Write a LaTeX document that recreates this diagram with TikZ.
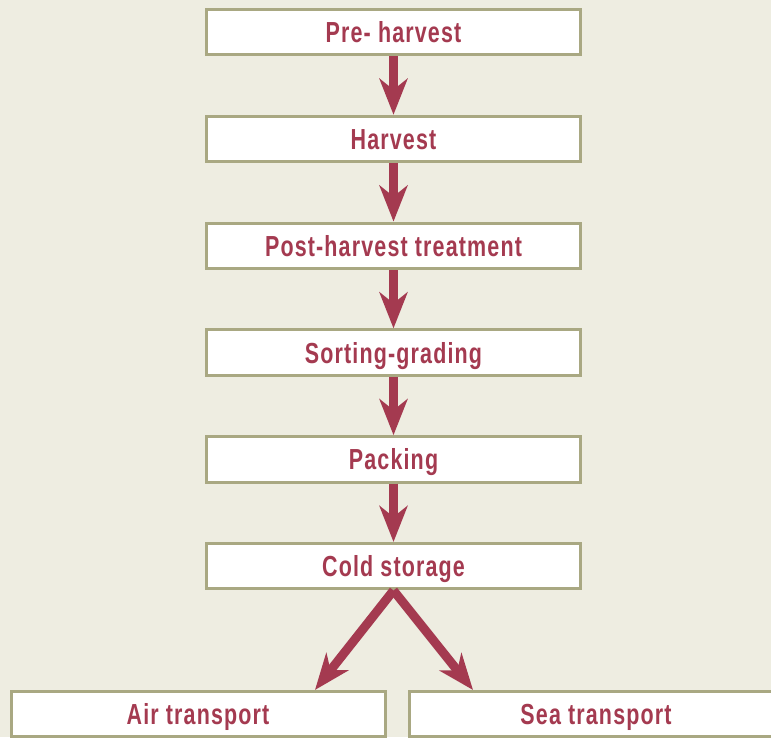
\documentclass[tikz,border=0pt]{standalone}
\usepackage{fontspec}
\newfontfamily\boxfont[FakeStretch=0.74, LetterSpace=4]{Liberation Sans}
\usepackage{tikz}
\usetikzlibrary{arrows.meta}
\usetikzlibrary{positioning}
\usetikzlibrary{calc}
\definecolor{paper}{RGB}{238,237,225}
\definecolor{boxline}{RGB}{169,168,130}
\definecolor{wine}{RGB}{164,58,80}

\begin{document}
\begin{tikzpicture}[x=1pt, y=-1pt,
    stage/.style = {draw=boxline, line width=3pt, fill=white, text=wine,
      minimum width=374pt, minimum height=45.5pt, inner sep=0pt,
      text height=20.8pt, text depth=0pt,
      font=\boxfont\bfseries\fontsize{29}{34}\selectfont},
    flow/.style = {draw=wine, line width=9pt,
      -{Stealth[length=36pt, width=28pt, inset=11pt]}},
    node distance=58.3pt]
    \useasboundingbox (0,0) rectangle (771,737);
    \fill[paper] (0,0) rectangle (771,737);
    \clip (0,0) rectangle (771,737);
    % chain of stages
    \node[stage] (pre) at (393.5,32.2) {Pre- harvest};
    \node[stage] (harv) [below=of pre] {Harvest};
    \node[stage] (treat) [below=of harv] {Post-harvest treatment};
    \node[stage] (sort) [below=of treat] {Sorting-grading};
    \node[stage] (pack) [below=of sort] {Packing};
    \node[stage] (cold) [below=of pack] {Cold storage};
    \node[stage] (air) [below=99.5pt of cold, xshift=-195.5pt] {Air transport};
    \node[stage] (sea) [below=99.5pt of cold, xshift=202.5pt] {Sea transport};
    % arrows
    \draw[flow] (pre) -- (harv);
    \draw[flow] (harv) -- (treat);
    \draw[flow] (treat) -- (sort);
    \draw[flow] (sort) -- (pack);
    \draw[flow] (pack) -- (cold);
    \draw[flow] (cold.south) -- ($(air.north)+(117,0)$);
    \draw[flow] (cold.south) -- ($(sea.north)+(-123,0)$);
\end{tikzpicture}
\end{document}
